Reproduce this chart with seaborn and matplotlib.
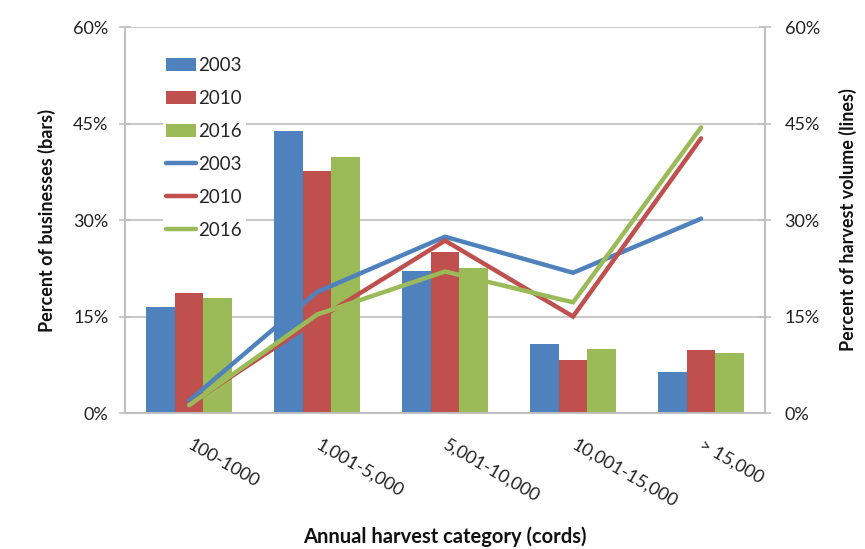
import numpy as np
import pandas as pd
import matplotlib
matplotlib.use("Agg")
import matplotlib.pyplot as plt
import seaborn as sns
from matplotlib.ticker import PercentFormatter, FixedLocator

# ------------------------------
# Data
# ------------------------------
categories = ['100-1000', '1,001-5,000', '5,001-10,000', '10,001-15,000', '> 15,000']
years = ['2003', '2010', '2016']

# percent of businesses (bars)
bars_2003 = [16.5, 43.9, 22.0, 10.8, 6.3]
bars_2010 = [18.7, 37.6, 25.0, 8.2, 9.8]
bars_2016 = [17.9, 39.8, 22.5, 9.9, 9.3]

# percent of harvest volume (lines)
lines_2003 = [1.9, 18.8, 27.4, 21.8, 30.2]
lines_2010 = [1.3, 14.5, 26.8, 15.0, 42.7]
lines_2016 = [1.2, 15.3, 22.0, 17.2, 44.4]

yticks = [0, 15, 30, 45, 60]
palette = ['#4F81BD', '#C0504D', '#9BBB59']
grid_col = '#BFBFBF'

bars_df = pd.DataFrame({
    'category': categories * 3,
    'year': np.repeat(years, len(categories)),
    'value': bars_2003 + bars_2010 + bars_2016,
})
lines_df = pd.DataFrame({
    'category': categories * 3,
    'year': np.repeat(years, len(categories)),
    'value': lines_2003 + lines_2010 + lines_2016,
})

# ------------------------------
# Plot
# ------------------------------
sns.set_style('white')
plt.rcParams['font.family'] = ['Lato', 'DejaVu Sans']

fig = plt.figure(figsize=(8.65, 5.49), dpi=100)
ax = fig.add_axes([0.1445, 0.2477, 0.7400, 0.7031])

sns.barplot(data=bars_df, x='category', y='value', hue='year', order=categories,
            hue_order=years, palette=palette, saturation=1, width=0.67,
            errorbar=None, linewidth=0, ax=ax)
bar_handles, bar_labels = ax.get_legend_handles_labels()
ax.get_legend().remove()

ax2 = ax.twinx()
sns.pointplot(data=lines_df, x='category', y='value', hue='year', order=categories,
              hue_order=years, palette=palette, markers='', errorbar=None,
              dodge=False, linewidth=3.2, ax=ax2)
line_handles, line_labels = ax2.get_legend_handles_labels()
ax2.get_legend().remove()
for ln in ax2.lines:
    ln.set_solid_joinstyle('miter')

for a in (ax, ax2):
    a.set_ylim(0, 60)
    a.yaxis.set_major_locator(FixedLocator(yticks))
    a.yaxis.set_major_formatter(PercentFormatter(decimals=0))
    a.set_xlim(-0.5, len(categories) - 0.5)
    for s in a.spines.values():
        s.set_color(grid_col)
        s.set_linewidth(1.2)
    a.spines['top'].set_visible(False)
    a.tick_params(axis='y', labelsize=13, colors=grid_col, labelcolor='#222222',
                  length=8, width=1.2, direction='inout')

ax.yaxis.grid(True, color=grid_col, linewidth=1.2)
ax.set_axisbelow(True)
ax.tick_params(axis='y', pad=8)
ax2.tick_params(axis='y', pad=10)

# category labels at centers, tick marks at boundaries (x axis is shared)
ax.set_xticks(range(len(categories)))
ax.set_xticklabels(categories, rotation=-30, ha='left', va='center',
                   rotation_mode='anchor', fontsize=13, color='#222222')
ax.tick_params(axis='x', length=0, pad=22)
ax.set_xticks(np.arange(-0.5, len(categories)), minor=True)
ax.tick_params(axis='x', which='minor', length=7, width=1.2, color=grid_col,
               direction='out')

ax.set_xlabel('Annual harvest category (cords)', fontsize=14.5, fontweight='bold',
              labelpad=12, color='#111111')
ax.set_ylabel('Percent of businesses (bars)', fontsize=13, fontweight='bold',
              labelpad=12, color='#111111')
ax2.set_ylabel('Percent of harvest volume (lines)', fontsize=13, fontweight='bold',
               labelpad=14, color='#111111')

leg = ax2.legend(bar_handles + line_handles, bar_labels + line_labels,
                 loc='upper left', bbox_to_anchor=(0.188, 0.903),
                 bbox_transform=fig.transFigure, fontsize=13.5, frameon=True,
                 facecolor='white', edgecolor='none', framealpha=1,
                 handlelength=1.6, handletextpad=0.1, labelspacing=0.85,
                 borderpad=0.2, borderaxespad=0)
for h in leg.get_lines():
    h.set_linewidth(3.2)

plt.savefig('out.png', dpi=100)
